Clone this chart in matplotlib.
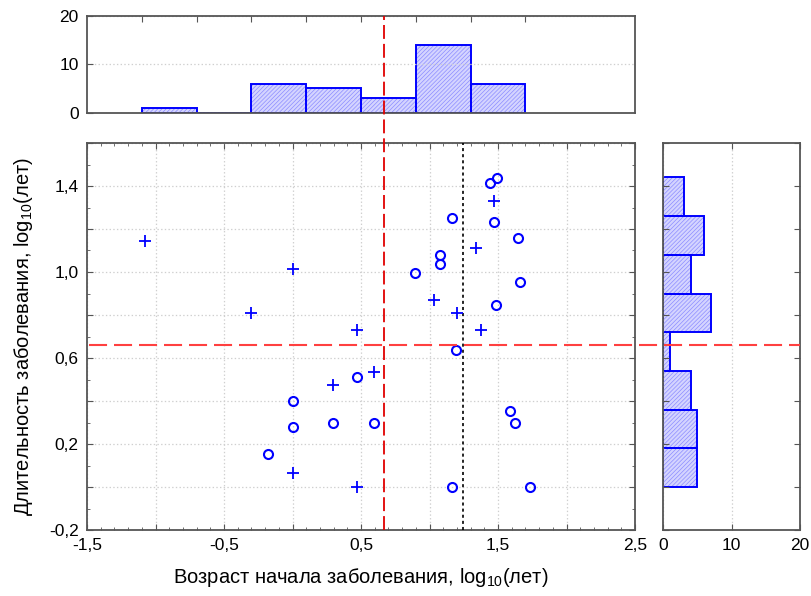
import numpy as np
import matplotlib
matplotlib.use("Agg")
import matplotlib.pyplot as plt
from matplotlib.lines import Line2D
from matplotlib.ticker import MultipleLocator, FixedLocator, FuncFormatter
import matplotlib.transforms as mtransforms

plt.rcParams['font.family'] = ['Liberation Sans', 'DejaVu Sans']
plt.rcParams['mathtext.fontset'] = 'custom'
plt.rcParams['mathtext.rm'] = 'Liberation Sans'
plt.rcParams['mathtext.it'] = 'Liberation Sans'
plt.rcParams['lines.scale_dashes'] = False
plt.rcParams['hatch.linewidth'] = 0.5

# точки: кружки и крестики (log10 лет)
circ_x = [0.468, 0.0, 0.0, 0.296, 0.597, -0.18, 1.494, 1.439, 1.167, 1.468, 1.647,
          1.075, 1.075, 0.895, 1.657, 1.482, 1.196, 1.591, 1.623, 1.167, 1.737]
circ_y = [0.512, 0.399, 0.281, 0.300, 0.300, 0.152, 1.437, 1.416, 1.253, 1.231, 1.157,
          1.078, 1.039, 0.997, 0.953, 0.845, 0.636, 0.352, 0.300, 0.0, 0.0]
plus_x = [-1.077, 0.0, -0.306, 0.468, 0.597, 0.296, 0.0, 0.471, 1.47, 1.337,
          1.033, 1.199, 1.373]
plus_y = [1.144, 1.016, 0.807, 0.732, 0.534, 0.476, 0.067, 0.0, 1.330, 1.113,
          0.870, 0.807, 0.732]

# гистограммы
top_edges = [-1.1, -0.7, -0.3, 0.1, 0.5, 0.9, 1.3, 1.7]
top_counts = [1, 0, 6, 5, 3, 14, 6]
right_edges = [0.0, 0.18, 0.36, 0.54, 0.72, 0.90, 1.08, 1.26, 1.44]
right_counts = [5, 5, 4, 1, 7, 4, 6, 3]

# линии
x_red = 0.67
x_black = 1.245
y_red = 0.66

blue = '#0000ff'
spine_c = '#555555'
grid_c = '#cfcfcf'

fig = plt.figure(figsize=(8.11, 5.96), dpi=100)
ax = fig.add_axes([87/811, 66/596, 548/811, 387/596])
axt = fig.add_axes([87/811, (596-112.7)/596, 548/811, 97/596])
axr = fig.add_axes([663.3/811, 66/596, 136.7/811, 387/596])


def lab_every(step, start):
    def f(v, p):
        k = (v - start) / step
        if abs(k - round(k)) < 1e-6:
            return ('%.1f' % v).replace('.', ',')
        return ''
    return FuncFormatter(f)


for a in (ax, axt, axr):
    for s in a.spines.values():
        s.set_color(spine_c)
        s.set_linewidth(1.3)
    a.tick_params(which='both', direction='in', color=spine_c, labelsize=12.5, pad=6)
    a.tick_params(which='major', length=4)
    a.tick_params(which='minor', length=2.5)

# основной график
ax.set_xlim(-1.5, 2.5)
ax.set_ylim(-0.2, 1.6)
ax.xaxis.set_major_locator(MultipleLocator(0.5))
ax.xaxis.set_minor_locator(MultipleLocator(0.1))
ax.yaxis.set_major_locator(MultipleLocator(0.2))
ax.yaxis.set_minor_locator(MultipleLocator(0.1))
ax.xaxis.set_major_formatter(lab_every(1.0, -1.5))
ax.yaxis.set_major_formatter(lab_every(0.4, -0.2))
ax.tick_params(which='both', top=True, right=True)
ax.grid(True, which='major', color=grid_c, linestyle=':', linewidth=0.9)

ax.plot(circ_x, circ_y, 'o', mfc='none', mec=blue, mew=1.5, ms=6.5, zorder=5)
ax.plot(plus_x, plus_y, '+', color=blue, mew=1.3, ms=8, zorder=5)
ax.axvline(x_black, color='black', linewidth=1.2, dashes=(2.2, 2.2), zorder=4)

ax.set_xlabel('Возраст начала заболевания, log$_{10}$(лет)', fontsize=14.5, labelpad=9)
ax.set_ylabel('Длительность заболевания, log$_{10}$(лет)', fontsize=14.5, labelpad=10)

# верхняя гистограмма
axt.set_xlim(-1.5, 2.5)
axt.set_ylim(0, 20)
axt.bar(top_edges[:-1], top_counts, width=np.diff(top_edges), align='edge',
        facecolor='#d4d4ff', edgecolor='#8c8cff', hatch='////////', linewidth=0)
axt.bar(top_edges[:-1], top_counts, width=np.diff(top_edges), align='edge',
        facecolor='none', edgecolor=blue, linewidth=1.4)
axt.xaxis.set_major_locator(FixedLocator(top_edges))
axt.tick_params(axis='x', bottom=False, top=True, labelbottom=False)
axt.yaxis.set_major_locator(MultipleLocator(10))
axt.grid(True, axis='y', color=grid_c, linestyle=':', linewidth=0.9)

# правая гистограмма
axr.set_ylim(-0.2, 1.6)
axr.set_xlim(0, 20)
axr.barh(right_edges[:-1], right_counts, height=np.diff(right_edges), align='edge',
         facecolor='#d4d4ff', edgecolor='#8c8cff', hatch='////////', linewidth=0)
axr.barh(right_edges[:-1], right_counts, height=np.diff(right_edges), align='edge',
         facecolor='none', edgecolor=blue, linewidth=1.4)
axr.xaxis.set_major_locator(MultipleLocator(10))
axr.yaxis.set_major_locator(MultipleLocator(0.2))
axr.tick_params(axis='x', top=True)
axr.tick_params(axis='y', left=True, right=True, labelleft=False)
axr.grid(True, axis='x', color=grid_c, linestyle=':', linewidth=0.9)

# красные пунктирные линии через панели
tv = mtransforms.blended_transform_factory(ax.transData, fig.transFigure)
fig.add_artist(Line2D([x_red, x_red], [66/596, (596-15.7)/596], transform=tv,
                      color='#e00000', linewidth=1.3, dashes=(10, 3.6)))
th = mtransforms.blended_transform_factory(fig.transFigure, ax.transData)
fig.add_artist(Line2D([89/811, 800/811], [y_red, y_red], transform=th,
                      color='#ff4040', linewidth=1.5, dashes=(13, 5)))

fig.savefig('out.png', dpi=100)
